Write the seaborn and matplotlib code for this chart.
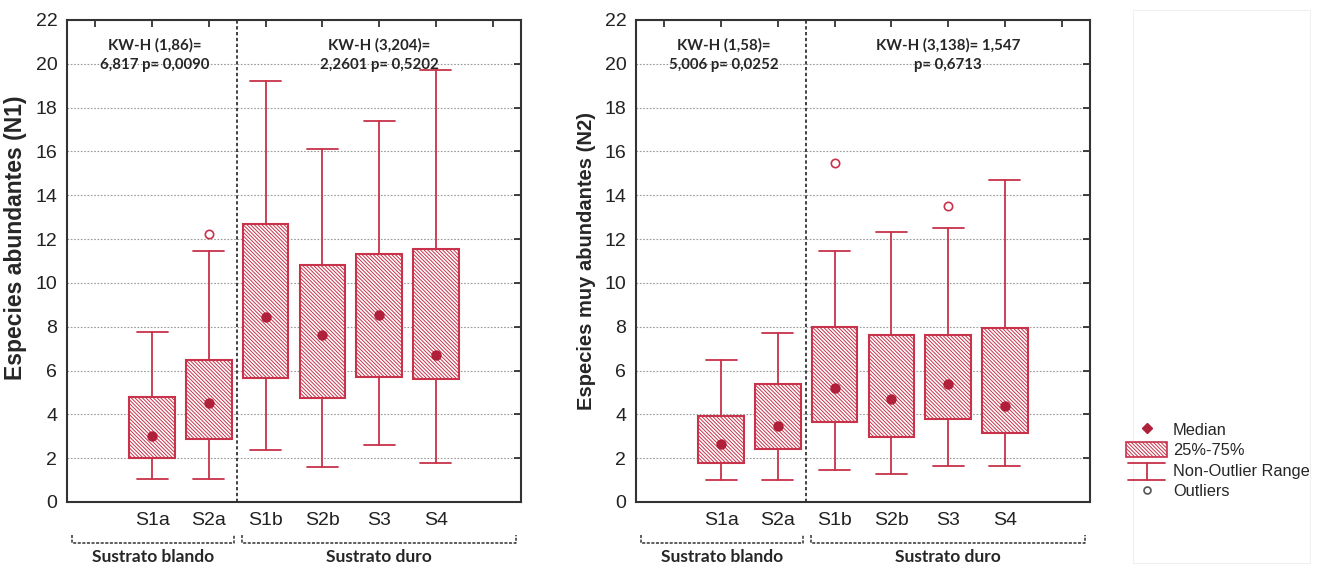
import numpy as np
import pandas as pd
import matplotlib
matplotlib.use('Agg')
import matplotlib.pyplot as plt
import seaborn as sns
from matplotlib.patches import Patch, Rectangle
from matplotlib.lines import Line2D
from matplotlib.legend_handler import HandlerBase


categorias = ['S1a', 'S2a', 'S1b', 'S2b', 'S3', 'S4']

# N1 - especies abundantes
n1_min = [1.05, 1.05, 2.38, 1.59, 2.62, 1.80]
n1_q1 = [2.03, 2.87, 5.65, 4.74, 5.69, 5.60]
n1_med = [3.03, 4.51, 8.43, 7.62, 8.53, 6.72]
n1_q3 = [4.78, 6.48, 12.71, 10.84, 11.34, 11.57]
n1_max = [7.77, 11.45, 19.22, 16.10, 17.37, 19.73]
n1_out_cat = ['S2a']
n1_out_val = [12.25]

# N2 - especies muy abundantes
n2_min = [1.02, 1.02, 1.45, 1.27, 1.63, 1.63]
n2_q1 = [1.76, 2.40, 3.63, 2.96, 3.81, 3.14]
n2_med = [2.64, 3.48, 5.20, 4.68, 5.37, 4.39]
n2_q3 = [3.93, 5.37, 7.97, 7.62, 7.62, 7.93]
n2_max = [6.48, 7.70, 11.45, 12.34, 12.51, 14.70]
n2_out_cat = ['S1b', 'S3']
n2_out_val = [15.49, 13.53]

kw_n1 = ['KW-H (1,86)=\n6,817 p= 0,0090', 'KW-H (3,204)=\n2,2601 p= 0,5202']
kw_n2 = ['KW-H (1,58)=\n5,006 p= 0,0252', 'KW-H (3,138)= 1,547\np= 0,6713']
grupos = ['Sustrato blando', 'Sustrato duro']

RED = '#c8324a'
MED = '#b0203a'
HATCH = '\\' * 9

sns.set_theme(style='white')
plt.rcParams['font.family'] = ['Liberation Sans', 'DejaVu Sans']
plt.rcParams['hatch.linewidth'] = 0.7

fig = plt.figure(figsize=(13.24, 5.69), dpi=100)
ax1 = fig.add_axes([67 / 1324, 1 - 502 / 569, 454 / 1324, 482 / 569])
ax2 = fig.add_axes([636 / 1324, 1 - 502 / 569, 454 / 1324, 482 / 569])


def panel(ax, mins, q1, med, q3, maxs, out_cat, out_val, ylabel, kw, lab_size, lab_y):
    stats = []
    for i, c in enumerate(categorias):
        stats.append(dict(label=c, whislo=mins[i], q1=q1[i], med=med[i],
                          q3=q3[i], whishi=maxs[i], fliers=[]))
    ax.bxp(stats, positions=range(len(categorias)), widths=0.8, capwidths=0.55,
           patch_artist=True, showfliers=False,
           boxprops=dict(facecolor='white', edgecolor=RED, linewidth=1.5, hatch=HATCH),
           whiskerprops=dict(color=RED, linewidth=1.3),
           capprops=dict(color=RED, linewidth=1.3),
           medianprops=dict(linewidth=0))
    sns.stripplot(x=categorias, y=med, order=categorias, jitter=False, color=MED,
                  size=7.5, linewidth=0, ax=ax, zorder=5)
    sns.stripplot(x=out_cat, y=out_val, order=categorias, jitter=False, color='white',
                  edgecolor=RED, linewidth=1.2, size=6, ax=ax, zorder=5)

    ax.set_xlim(-1.5, 6.5)
    ax.set_ylim(0, 22)
    ax.set_yticks(range(0, 23, 2))
    ax.set_xticks(range(-1, 7))
    ax.set_xticklabels([''] + categorias + [''])
    ax.yaxis.grid(True, linestyle=(0, (1.5, 1.5)), color='#9a9a9a', linewidth=0.8)
    ax.xaxis.grid(False)
    ax.set_axisbelow(True)
    ax.tick_params(direction='in', top=True, right=True, length=5, width=1.2,
                   labelsize=14, pad=7, colors='#222222')
    for s in ax.spines.values():
        s.set_color('#333333')
        s.set_linewidth(1.5)
    ax.set_xlabel('')
    ax.set_ylabel(ylabel, fontsize=lab_size, fontweight='bold')
    ax.yaxis.set_label_coords(-0.088, lab_y)
    ax.axvline(1.5, color='#222222', linestyle=(0, (2, 1.5)), linewidth=1.2)

    ax.text(0.05, 20.4, kw[0], ha='center', va='center', fontsize=10.8,
            fontweight='bold', family='Lato', linespacing=1.55)
    ax.text(4.0, 20.4, kw[1], ha='center', va='center', fontsize=10.8,
            fontweight='bold', family='Lato', linespacing=1.55)

    # llaves de agrupación bajo el eje
    tr = ax.get_xaxis_transform()
    for (x0, x1), nombre in zip([(-1.42, 1.45), (1.58, 6.42)], grupos):
        ax.plot([x0, x0, x1, x1], [-0.068, -0.085, -0.085, -0.068], transform=tr,
                color='#333333', linestyle=(0, (2, 1)), linewidth=1.1, clip_on=False)
        ax.text((x0 + x1) / 2, -0.114, nombre, transform=tr, ha='center', va='center',
                fontsize=12.5, fontweight='bold', family='Lato', clip_on=False)


panel(ax1, n1_min, n1_q1, n1_med, n1_q3, n1_max, n1_out_cat, n1_out_val,
      'Especies abundantes (N1)', kw_n1, 16.5, 0.548)
panel(ax2, n2_min, n2_q1, n2_med, n2_q3, n2_max, n2_out_cat, n2_out_val,
      'Especies muy abundantes (N2)', kw_n2, 14.5, 0.5)


class HandlerRango(HandlerBase):
    def create_artists(self, legend, orig_handle, xdescent, ydescent, width, height,
                       fontsize, trans):
        cx = width / 2 - xdescent
        y0, y1 = -ydescent - 0.1 * height, -ydescent + 0.95 * height
        x0, x1 = -xdescent + 0.05 * width, -xdescent + 0.95 * width
        kw = dict(color=RED, linewidth=1.3, transform=trans)
        return [Line2D([cx, cx], [y0, y1], **kw),
                Line2D([x0, x1], [y1, y1], **kw),
                Line2D([x0, x1], [y0, y0], **kw)]


# leyenda
h_med = Line2D([], [], linestyle='none', marker='D', markersize=5, color=MED)
h_box = Patch(facecolor='white', edgecolor=RED, hatch=HATCH, linewidth=1.2)
h_rng = Line2D([], [])
h_out = Line2D([], [], linestyle='none', marker='o', markersize=5,
               markerfacecolor='white', markeredgecolor='#555555', markeredgewidth=1.2)
fig.legend([h_med, h_box, h_rng, h_out],
           ['Median', '25%-75%', 'Non-Outlier Range', 'Outliers'],
           loc='upper left', bbox_to_anchor=(1118 / 1324, 1 - 413 / 569),
           frameon=False, fontsize=11.8, handlelength=2.5, handleheight=1.1,
           handletextpad=0.35, labelspacing=0.25, borderpad=0,
           handler_map={h_rng: HandlerRango()})

fig.add_artist(Rectangle((1133 / 1324, 1 - 563 / 569), 177 / 1324, 553 / 569,
                         transform=fig.transFigure, fill=False,
                         edgecolor='#f0f0f0', linewidth=0.8))

fig.savefig('out.png', dpi=100)
